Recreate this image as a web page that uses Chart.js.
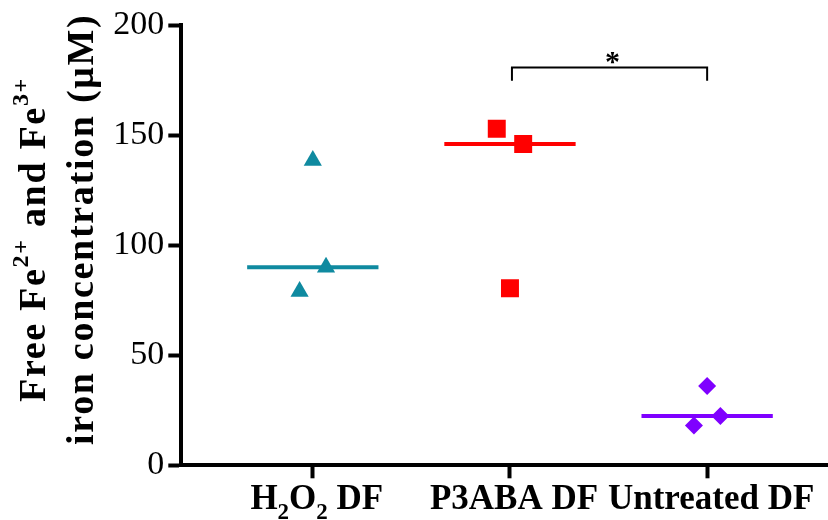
<!DOCTYPE html>
<html><head><meta charset="utf-8">
<script src="https://cdn.jsdelivr.net/npm/chart.js@4.4.1/dist/chart.umd.min.js"></script>
<style>html,body{margin:0;padding:0;background:#fff;overflow:hidden}#wrap{width:828px;height:520px;position:relative}#c{display:block}</style>
</head><body><div id="wrap"><canvas id="c"></canvas></div>
<script>
// ---- data ----
const categories = ['H2O2 DF', 'P3ABA DF', 'Untreated DF'];
const h2o2Values = [138.5, 90, 79];
const p3abaValues = [153, 146, 80.5];
const untreatedValues = [36, 22.4, 18.1];
const groupValues = [h2o2Values, p3abaValues, untreatedValues];
const jitter = [[0, 0.067, -0.067], [-0.067, 0.067, 0], [0, 0.067, -0.067]];
const yTicks = [0, 50, 100, 150, 200];
const significance = { from: 1.01, to: 2, y: 180.8, drop: 6, label: '*' };

// ---- style ----
const colors = ['#0f8aa0', '#ff0000', '#7f00ff'];
const pointStyles = ['triangle', 'rect', 'rectRot'];
const pointRadii = [10.5, 12.7, 9];
const serif = '"Liberation Serif", "Times New Roman", serif';

function median(a) { const s = [...a].sort((p, q) => p - q); const m = Math.floor(s.length / 2); return s.length % 2 ? s[m] : (s[m - 1] + s[m]) / 2; }

const datasets = [];
groupValues.forEach((vals, i) => {
  const med = median(vals);
  datasets.push({
    type: 'line', data: [{ x: i - 0.333, y: med }, { x: i + 0.333, y: med }],
    borderColor: colors[i], borderWidth: 4, pointRadius: 0, order: 2
  });
  datasets.push({
    type: 'scatter', data: vals.map((v, k) => ({ x: i + jitter[i][k], y: v })),
    pointStyle: pointStyles[i], pointRadius: pointRadii[i], backgroundColor: colors[i],
    borderWidth: 0, order: 1
  });
});
datasets.push({
  type: 'line',
  data: [
    { x: significance.from, y: significance.y - significance.drop },
    { x: significance.from, y: significance.y },
    { x: significance.to, y: significance.y },
    { x: significance.to, y: significance.y - significance.drop }
  ],
  borderColor: '#000', borderWidth: 2, pointRadius: 0, order: 0
});

const textPlugin = {
  id: 'texts',
  afterDraw(chart) {
    const ctx = chart.ctx;
    const xs = chart.scales.x, ys = chart.scales.y;
    ctx.save();
    ctx.fillStyle = '#000';
    ctx.textBaseline = 'alphabetic';
    // x category labels (with subscripts)
    const labelSize = 35, subSize = 23, subDrop = 10;
    const labelParts = [
      [['H', 0], ['2', 1], ['O', 0], ['2', 1], [' DF', 0]],
      [['P3ABA DF', 0]],
      [['Untreated DF', 0]]
    ];
    labelParts.forEach((parts, i) => {
      let w = 0;
      parts.forEach(([t, sub]) => { ctx.font = 'bold ' + (sub ? subSize : labelSize) + 'px ' + serif; w += ctx.measureText(t).width; });
      let x = xs.getPixelForValue(i) + 4 - w / 2;
      const y = 509;
      ctx.textAlign = 'left';
      parts.forEach(([t, sub]) => {
        ctx.font = 'bold ' + (sub ? subSize : labelSize) + 'px ' + serif;
        ctx.fillText(t, x, y + (sub ? subDrop : 0));
        x += ctx.measureText(t).width;
      });
    });
    // y axis title (two lines, rotated, with superscripts)
    const tSize = 38, supSize = 24, supRise = 17;
    const lines = [
      { baseX: 45, startY: 402, parts: [['Free Fe', 0], ['2+', 1], [' and Fe', 0], ['3+', 1]] },
      { baseX: 93, startY: 445, parts: [['iron concentration (\u03bcM)', 0]] }
    ];
    try { ctx.letterSpacing = '1.7px'; } catch (e) {}
    lines.forEach(line => {
      ctx.save();
      ctx.translate(line.baseX, line.startY);
      ctx.rotate(-Math.PI / 2);
      ctx.textAlign = 'left';
      let x = 0;
      line.parts.forEach(([t, sup]) => {
        ctx.font = 'bold ' + (sup ? supSize : tSize) + 'px ' + serif;
        ctx.fillText(t, x, sup ? -supRise : 0);
        x += ctx.measureText(t).width;
      });
      ctx.restore();
    });
    try { ctx.letterSpacing = '0px'; } catch (e) {}
    // significance asterisk
    ctx.font = 'bold 30px ' + serif;
    ctx.textAlign = 'center';
    const ax = (xs.getPixelForValue(significance.from) + xs.getPixelForValue(significance.to)) / 2 + 3;
    ctx.fillText(significance.label, ax, ys.getPixelForValue(significance.y) + 3);
    ctx.restore();
  }
};

new Chart(document.getElementById('c'), {
  type: 'scatter',
  data: { datasets },
  plugins: [textPlugin],
  options: {
    responsive: true, maintainAspectRatio: false, animation: false,
    layout: { autoPadding: false, padding: { top: 25.3, left: 0, right: 0, bottom: 0 } },
    plugins: { legend: { display: false }, tooltip: { enabled: false } },
    scales: {
      x: {
        type: 'linear', min: -0.667, max: 2.613,
        afterBuildTicks: s => { s.ticks = categories.map((c, i) => ({ value: i })); },
        ticks: { display: false },
        grid: { drawOnChartArea: false, drawTicks: true, tickLength: 13, tickWidth: 4, tickColor: '#000' },
        border: { display: true, color: '#000', width: 4 },
        afterFit: s => { s.height = 54.7; }
      },
      y: {
        min: 0, max: 200,
        afterBuildTicks: s => { s.ticks = yTicks.map(v => ({ value: v })); },
        ticks: { font: { family: serif, size: 34 }, color: '#000', padding: 4 },
        grid: { drawOnChartArea: false, drawTicks: true, tickLength: 13, tickWidth: 4, tickColor: '#000' },
        border: { display: true, color: '#000', width: 4 },
        afterFit: s => { s.width = 181.3; }
      }
    }
  }
});
</script>
</body></html>
